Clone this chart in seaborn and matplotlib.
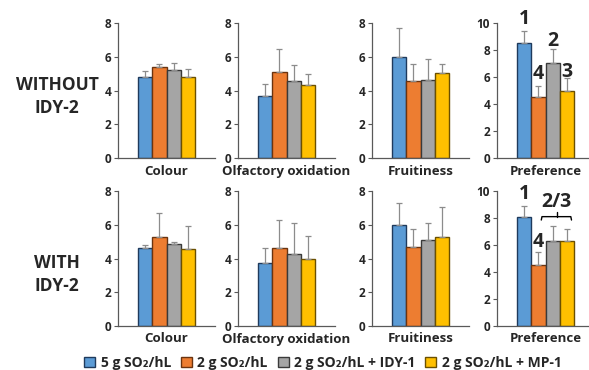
import numpy as np
import pandas as pd
import matplotlib
matplotlib.use('Agg')
import matplotlib.pyplot as plt
from matplotlib.patches import Patch
import seaborn as sns

# treatments and colours
treatments = ['5 g SO₂/hL', '2 g SO₂/hL', '2 g SO₂/hL + IDY-1', '2 g SO₂/hL + MP-1']
colors = ['#5B9BD5', '#ED7D31', '#A5A5A5', '#FFC000']
edges = ['#1F3A5C', '#6B3410', '#3A3A3A', '#6B5000']

attributes = ['Colour', 'Olfactory oxidation', 'Fruitiness', 'Preference']

# WITHOUT IDY-2 (means, upper error)
without_colour = [4.8, 5.4, 5.2, 4.8]
without_colour_err = [0.35, 0.15, 0.45, 0.45]
without_olf = [3.7, 5.1, 4.55, 4.3]
without_olf_err = [0.7, 1.35, 0.95, 0.7]
without_fruit = [6.0, 4.55, 4.65, 5.05]
without_fruit_err = [1.7, 1.05, 1.2, 0.55]
without_pref = [8.55, 4.55, 7.05, 5.0]
without_pref_err = [0.85, 0.8, 1.05, 0.9]
without_rank = ['1', '4', '2', '3']

# WITH IDY-2
with_colour = [4.65, 5.25, 4.85, 4.55]
with_colour_err = [0.15, 1.45, 0.15, 1.4]
with_olf = [3.75, 4.6, 4.25, 4.0]
with_olf_err = [0.85, 1.7, 1.85, 1.35]
with_fruit = [6.0, 4.7, 5.1, 5.3]
with_fruit_err = [1.3, 1.05, 1.0, 1.75]
with_pref = [8.05, 4.55, 6.3, 6.3]
with_pref_err = [0.85, 0.95, 1.1, 0.85]

rows = [
    ('WITHOUT\nIDY-2', [without_colour, without_olf, without_fruit, without_pref],
     [without_colour_err, without_olf_err, without_fruit_err, without_pref_err]),
    ('WITH\nIDY-2', [with_colour, with_olf, with_fruit, with_pref],
     [with_colour_err, with_olf_err, with_fruit_err, with_pref_err]),
]

sns.set_style('white')
plt.rcParams['font.family'] = ['Open Sans', 'DejaVu Sans']
plt.rcParams['font.weight'] = 'bold'

W, H = 589, 370
fig = plt.figure(figsize=(W / 100, H / 100), dpi=100)

col_left = [118, 238, 372, 497]
col_w = 97
row_top = [23, 191]
row_h = 135

axes = {}
for r, (row_label, vals, errs) in enumerate(rows):
    for c, attr in enumerate(attributes):
        ax = fig.add_axes([col_left[c] / W, 1 - (row_top[r] + row_h) / H, col_w / W, row_h / H])
        df = pd.DataFrame({'treatment': treatments, 'value': vals[c]})
        sns.barplot(data=df, x='treatment', y='value', hue='treatment', palette=colors,
                    order=treatments, hue_order=treatments, width=1.0, errorbar=None,
                    legend=False, ax=ax, saturation=1)
        for patch, ec in zip(ax.patches, edges):
            patch.set_edgecolor(ec)
            patch.set_linewidth(1.0)
        x = np.arange(len(treatments))
        ax.errorbar(x, vals[c], yerr=[np.zeros(4), errs[c]], fmt='none', ecolor='#8C8C8C',
                    elinewidth=0.9, capsize=2, capthick=0.9, zorder=1)
        ymax = 10 if attr == 'Preference' else 8
        ax.set_ylim(0, ymax)
        ax.set_yticks(np.arange(0, ymax + 1, 2))
        ax.set_xlim(-1.95, 4.95)
        ax.set_xticks([])
        ax.set_xlabel('')
        ax.set_ylabel('')
        for s in ['top', 'right']:
            ax.spines[s].set_visible(False)
        for s in ['left', 'bottom']:
            ax.spines[s].set_color('#595959')
            ax.spines[s].set_linewidth(0.9)
        ax.tick_params(axis='y', length=3, width=0.8, color='#595959', pad=2,
                       labelsize=8.5, left=True)
        for lbl in ax.get_yticklabels():
            lbl.set_fontweight('bold')
        ax.text(0.5, -13 / row_h, attr, transform=ax.transAxes, ha='center', va='center',
                fontsize=9.5, fontweight='bold')
        axes[(r, c)] = ax
    fig.text(57 / W, 1 - (96.5 + r * 178) / H, row_label, ha='center', va='center',
             fontsize=12.5, fontweight='bold', linespacing=1.35)

# rank annotations on Preference panels
ax = axes[(0, 3)]
for xi, (lab, yy) in enumerate(zip(without_rank, [10.3, 6.2, 8.7, 6.4])):
    ax.text(xi, yy, lab, ha='center', va='center', fontsize=14, fontweight='bold', clip_on=False)

ax = axes[(1, 3)]
ax.text(0, 9.8, '1', ha='center', va='center', fontsize=14, fontweight='bold', clip_on=False)
ax.text(1, 6.2, '4', ha='center', va='center', fontsize=14, fontweight='bold', clip_on=False)
ax.text(2.3, 9.15, '2/3', ha='center', va='center', fontsize=14, fontweight='bold', clip_on=False)
ax.plot([1.2, 1.25, 3.3, 3.35], [7.85, 8.1, 8.1, 7.85], color='black', lw=1.0, clip_on=False)
ax.plot([2.3, 2.3], [8.1, 8.45], color='black', lw=1.0, clip_on=False)

handles = [Patch(facecolor=fc, edgecolor=ec, linewidth=1.0) for fc, ec in zip(colors, edges)]
fig.legend(handles, treatments, loc='center left', bbox_to_anchor=(84 / W, 1 - 363 / H),
           ncol=4, frameon=False, handlelength=0.8, handleheight=0.8,
           handletextpad=0.4, columnspacing=0.7, borderpad=0, borderaxespad=0,
           prop={'weight': 'bold', 'size': 10})

fig.savefig('out.png', dpi=100)
